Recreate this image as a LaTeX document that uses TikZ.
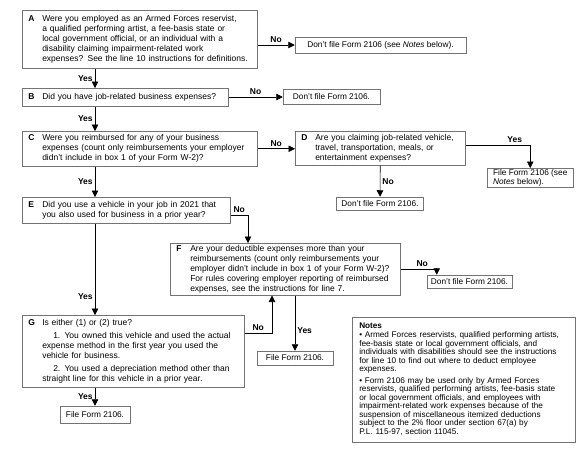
\documentclass[tikz,border=0pt]{standalone}
\usepackage{fontspec}
\setmainfont{Liberation Sans}
\usetikzlibrary{arrows.meta}
\tikzstyle{question} = [rectangle, draw=black!55, line width=0.5pt, anchor=north west, inner xsep=6pt, inner ysep=1pt, font=\fontsize{8.5}{10}\selectfont]
\tikzstyle{answer} = [rectangle, draw=black!55, line width=0.5pt, inner xsep=3pt, inner ysep=1pt, align=center, font=\fontsize{8.3}{9}\selectfont]
\tikzstyle{notebox} = [rectangle, draw=black!55, line width=0.5pt, anchor=north west, inner xsep=7pt, inner ysep=1pt, font=\fontsize{8.2}{8.5}\selectfont]
\tikzstyle{arrow} = [line width=0.6pt, -{Triangle[length=6.5pt,width=6.5pt]}]
\tikzstyle{lbl} = [font=\fontsize{8.5}{9}\selectfont\bfseries, inner sep=2pt]
\newcommand{\qtext}[2]{\noindent\makebox[14pt][l]{\textbf{#1}}\begin{tabular}[t]{@{}l@{}}#2\end{tabular}}

\begin{document}
\begin{tikzpicture}[x=1pt, y=-1pt]
            \useasboundingbox (0,0) rectangle (586,464);
            \coordinate (trunk) at (95,0);

            % questions
            \node [question, text width=223pt, minimum height=58pt] at (22,10) (A) {\qtext{A}{Were you employed as an Armed Forces reservist,\\a qualified performing artist, a fee-basis state or\\local government official, or an individual with a\\disability claiming impairment-related work\\expenses? See the line 10 instructions for definitions.}};
            \node [question, text width=194pt, minimum height=18pt] at (22,88) (B) {\qtext{B}{Did you have job-related business expenses?}};
            \node [question, text width=223pt, minimum height=35pt] at (22,131) (C) {\qtext{C}{Were you reimbursed for any of your business\\expenses (count only reimbursements your employer\\didn't include in box 1 of your Form W-2)?}};
            \node [question, text width=158pt, minimum height=34pt] at (295,131) (D) {\qtext{D}{Are you claiming job-related vehicle,\\travel, transportation, meals, or\\entertainment expenses?}};
            \node [question, text width=196pt, minimum height=26pt] at (22,197) (E) {\qtext{E}{Did you use a vehicle in your job in 2021 that\\you also used for business in a prior year?}};
            \node [question, text width=218pt, minimum height=50pt] at (170,243) (F) {\qtext{F}{Are your deductible expenses more than your\\reimbursements (count only reimbursements your\\employer didn't include in box 1 of your Form W-2)?\\For rules covering employer reporting of reimbursed\\expenses, see the instructions for line 7.}};
            \node [question, text width=210pt, minimum height=72pt] at (22,315) (G) {\qtext{G}{Is either (1) or (2) true?\\[3pt]\hspace*{11pt}1. You owned this vehicle and used the actual\\expense method in the first year you used the\\vehicle for business.\\[3pt]\hspace*{11pt}2. You used a depreciation method other than\\straight line for this vehicle in a prior year.}};

            % results
            \node [answer, minimum width=171pt, minimum height=16pt] at (380.5,45) (R1) {Don't file Form 2106 (see \textit{Notes} below).};
            \node [answer, minimum width=97pt, minimum height=15pt] at (331.5,97) (R2) {Don't file Form 2106.};
            \node [answer, anchor=north west, align=left, minimum width=86pt, minimum height=19pt] at (487,168) (R3) {File Form 2106 (see\\\textit{Notes} below).};
            \node [answer, minimum width=87pt, minimum height=13pt] at (380,203.5) (R4) {Don't file Form 2106.};
            \node [answer, minimum width=85pt, minimum height=13pt] at (469.5,281.5) (R5) {Don't file Form 2106.};
            \node [answer, minimum width=76pt, minimum height=14pt] at (295,358) (R6) {File Form 2106.};
            \node [answer, minimum width=70pt, minimum height=17pt] at (95,414.5) (R7) {File Form 2106.};

            % notes
            \node [notebox, text width=209pt, minimum height=125pt] at (352,317) (notes) {\noindent\begin{tabular}{@{}l@{}}\textbf{Notes}\\[1pt]
            • Armed Forces reservists, qualified performing artists,\\fee-basis state or local government officials, and\\individuals with disabilities should see the instructions\\for line 10 to find out where to deduct employee\\expenses.\\[3pt]
            • Form 2106 may be used only by Armed Forces\\reservists, qualified performing artists, fee-basis state\\or local government officials, and employees with\\impairment-related work expenses because of the\\suspension of miscellaneous itemized deductions\\subject to the 2\% floor under section 67(a) by\\P.L. 115-97, section 11045.\end{tabular}};

            % connectors
            \draw [arrow] (A.east |- R1.west) -- node[lbl, above] {No} (R1.west);
            \draw [arrow] (A.south -| trunk) -- node[lbl, left] {Yes} (B.north -| trunk);
            \draw [arrow] (B.east |- R2.west) -- node[lbl, above] {No} (R2.west);
            \draw [arrow] (B.south -| trunk) -- node[lbl, left] {Yes} (C.north -| trunk);
            \draw [arrow] (C.east) -- node[lbl, above] {No} (C.east -| D.west);
            \draw [arrow] ([yshift=3pt]D.east) -| node[lbl, above, pos=0.38] {Yes} (R3.north);
            \draw [arrow] (D.south) -- node[lbl, right] {No} (R4.north);
            \draw [arrow] (C.south -| trunk) -- node[lbl, left] {Yes} (E.north -| trunk);
            \draw [arrow] ([yshift=-5pt]E.east) -| node[lbl, above, pos=0.25] {No} ([xshift=78pt]F.north west);
            \draw [arrow] (F.east) -| node[lbl, above, pos=0.3] {No} ([xshift=10pt]R5.north west);
            \draw [arrow] (E.south -| trunk) -- node[lbl, left, pos=0.8] {Yes} (G.north -| trunk);
            \draw [arrow] ([yshift=-18pt]G.north east) -| node[lbl, above, pos=0.25] {No} ([xshift=102pt]F.south west);
            \draw [arrow] (R6.north |- F.south) -- node[lbl, right, pos=0.64] {Yes} (R6.north);
            \draw [arrow] (G.south -| trunk) -- node[lbl, left] {Yes} (R7.north);
\end{tikzpicture}
\end{document}
